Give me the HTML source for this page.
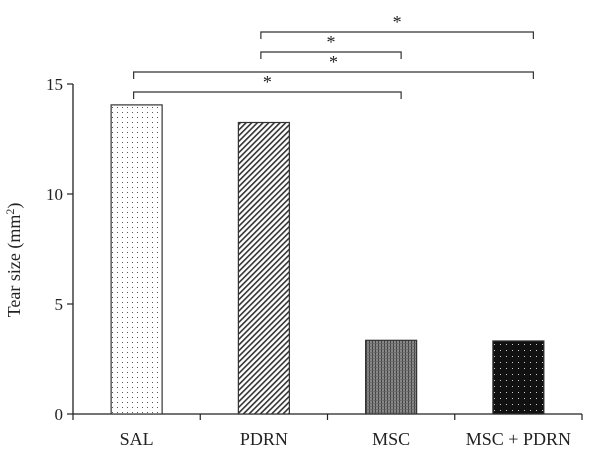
<!DOCTYPE html>
<html><head><meta charset="utf-8"><style>
body{margin:0;background:#fff}
text{font-family:"Liberation Serif",serif;fill:#222}
</style></head><body>
<svg id="chart" width="600" height="454" xmlns="http://www.w3.org/2000/svg">
<defs>
<pattern id="pDots" width="5" height="5" patternUnits="userSpaceOnUse"><rect width="5" height="5" fill="#fff"/><rect x="2" y="2" width="1" height="1" fill="#555"/></pattern>
<pattern id="pDiag" width="4" height="4" patternUnits="userSpaceOnUse" patternTransform="rotate(45)"><rect width="4" height="4" fill="#fff"/><rect width="1.6" height="4" fill="#333"/></pattern>
<pattern id="pVert" width="3" height="3" patternUnits="userSpaceOnUse"><rect width="3" height="3" fill="#888"/><rect width="1" height="3" fill="#444"/><rect y="1" width="3" height="0.7" fill="#666"/></pattern>
<pattern id="pDark" width="6" height="6" patternUnits="userSpaceOnUse"><rect width="6" height="6" fill="#111"/><rect x="2" y="2" width="1" height="1" fill="#ccc"/></pattern>
</defs>
<g id="axes"></g><g id="bars"></g><g id="sig"></g>
<text transform="translate(20,260) rotate(-90)" text-anchor="middle" font-size="18">Tear size (mm<tspan dy="-6" font-size="12">2</tspan><tspan dy="6">)</tspan></text>
</svg>
<script>
const categories=["SAL","PDRN","MSC","MSC + PDRN"];
const values=[14.05,13.25,3.35,3.32];
const yTicks=[0,5,10,15];
const fills=["url(#pDots)","url(#pDiag)","url(#pVert)","url(#pDark)"];
const comparisons=[[1,3],[1,2],[0,3],[0,2]];
const NS="http://www.w3.org/2000/svg";
const x0=73,x1=582,yBase=414,pxPerUnit=22,bw=51;
const step=(x1-x0)/categories.length;
const xC=i=>x0+step*(i+0.5);
const y=v=>yBase-v*pxPerUnit;
function mk(tag,attrs,parent){const e=document.createElementNS(NS,tag);for(const k in attrs)e.setAttribute(k,attrs[k]);parent.appendChild(e);return e;}
const axes=document.getElementById('axes');
let l=mk('line',{x1:x0,y1:yBase,x2:x1,y2:yBase,stroke:'#222','stroke-width':1.3},axes);


l=mk('line',{x1:x0,y1:yBase,x2:x0,y2:y(yTicks[yTicks.length-1]),stroke:'#222','stroke-width':1.3},axes);


yTicks.forEach(t=>{
  mk('line',{x1:x0-6,y1:y(t),x2:x0,y2:y(t),stroke:'#222','stroke-width':1.2},axes);
  const tx=mk('text',{x:x0-10,y:y(t)+6,'text-anchor':'end','font-size':17},axes);
  tx.textContent=t;
  
  
});
for(let k=0;k<=categories.length;k++){mk('line',{x1:x0+step*k,y1:yBase,x2:x0+step*k,y2:yBase+6,stroke:'#222','stroke-width':1.2},axes);}
const bars=document.getElementById('bars');
categories.forEach((c,i)=>{
  const r=mk('rect',{x:xC(i)-bw/2,y:y(values[i]),width:bw,height:yBase-y(values[i]),fill:fills[i],stroke:'#333','stroke-width':1.2},bars);
  
  
  const t=mk('text',{x:xC(i),y:445,'text-anchor':'middle','font-size':18},bars);
  t.textContent=c;
  
  
});
const sig=document.getElementById('sig');
const brY=[32,52,72,92];
comparisons.forEach((p,k)=>{
  const a=xC(p[0])-3,b=xC(p[1])+(p[1]===3?15:10),yy=brY[k];
  const pl=mk('polyline',{points:`${a},${yy+7} ${a},${yy} ${b},${yy} ${b},${yy+7}`,fill:'none',stroke:'#333','stroke-width':1.2},sig);
  
  
  const s=mk('text',{x:(a+b)/2,y:yy-4,'text-anchor':'middle','font-size':18},sig);
  s.textContent='*';
  
  
});
</script>
</body></html>
